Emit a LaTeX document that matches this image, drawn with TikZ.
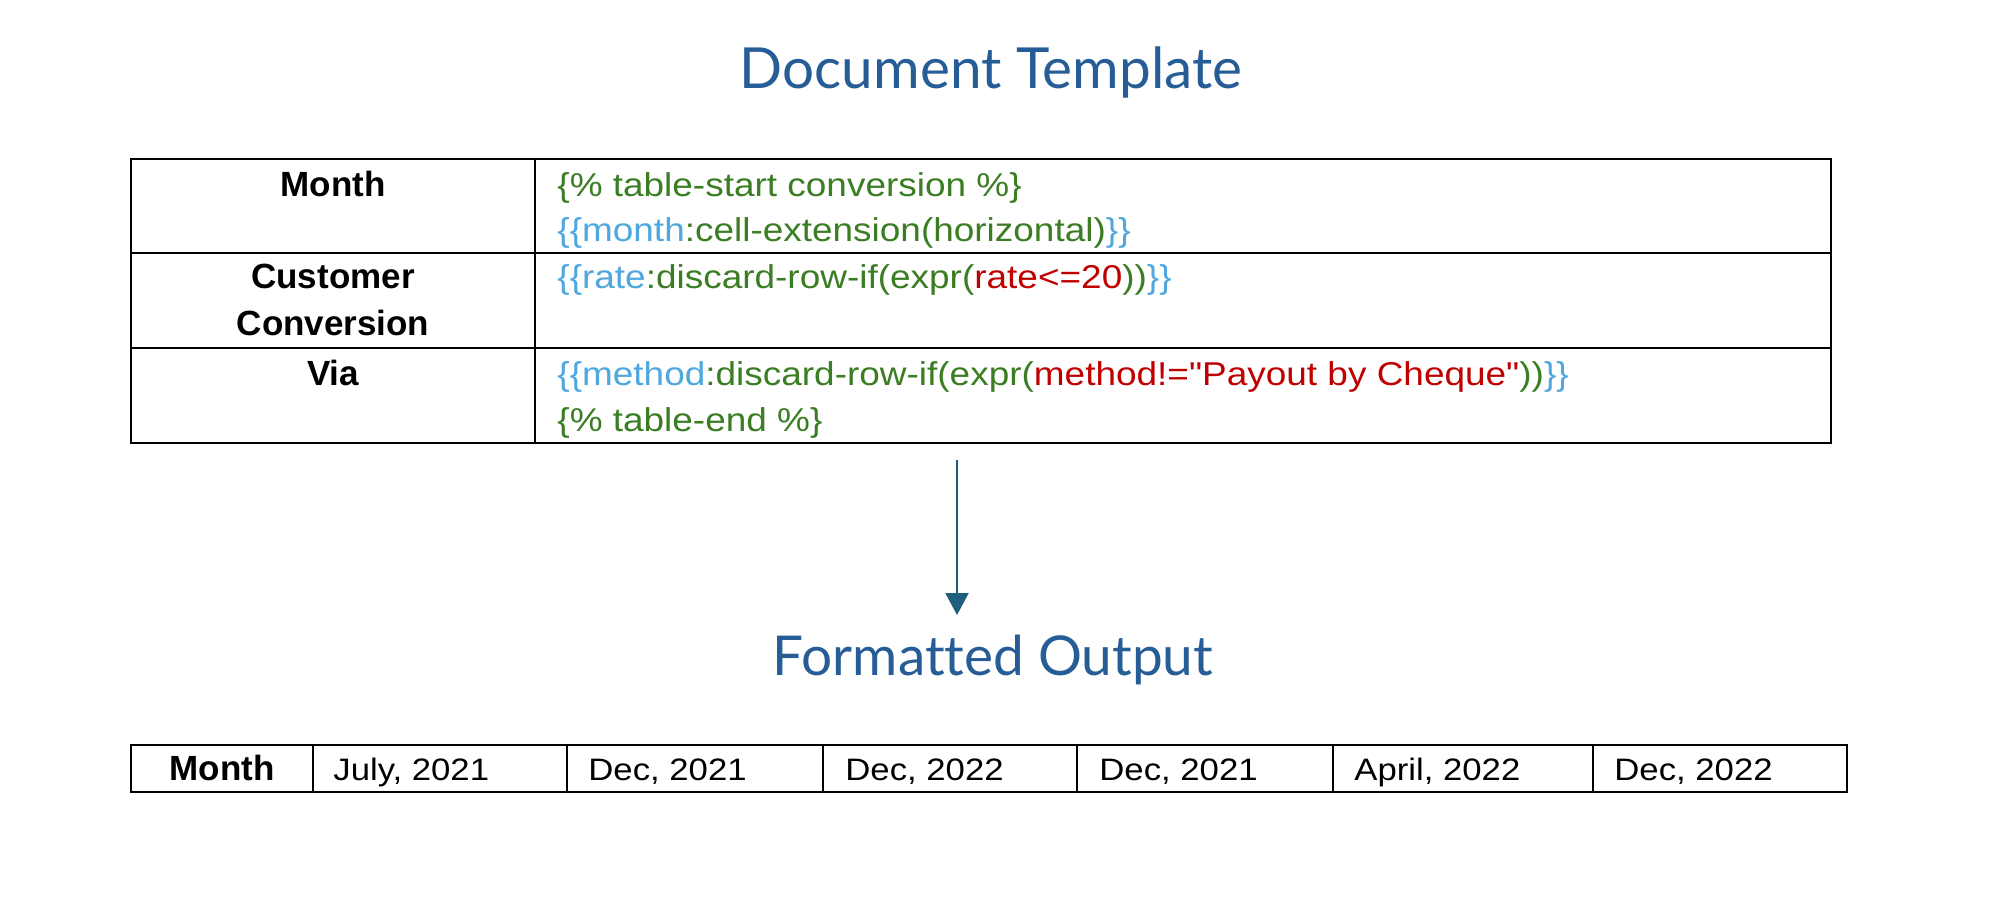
\documentclass[tikz,border=0pt]{standalone}
\usepackage{fontspec}
\usepackage{graphicx}
\usetikzlibrary{arrows.meta}
\setmainfont{Liberation Sans}
\newfontfamily\codefont[FakeStretch=1.12]{Liberation Sans}
\newfontfamily\titlefont[Ligatures={NoCommon,NoRare,NoContextual}]{Lato}
\definecolor{titleblue}{HTML}{265D96}
\definecolor{arrowblue}{HTML}{1D5F7D}
\definecolor{codegreen}{RGB}{59,125,35}
\definecolor{codeblue}{RGB}{78,167,222}
\definecolor{codered}{HTML}{C00000}
\newcommand{\cg}[1]{\textcolor{codegreen}{#1}}
\newcommand{\cb}[1]{\textcolor{codeblue}{#1}}
\newcommand{\cred}[1]{\textcolor{codered}{#1}}
\begin{document}
\begin{tikzpicture}[x=0.5pt,y=-0.5pt,
  grid/.style={line width=1pt,black},
  hdr/.style={inner sep=0pt,anchor=base,font=\fontsize{17.5pt}{23.5pt}\selectfont\bfseries,align=center},
  code/.style={inner sep=0pt,anchor=base west,font=\fontsize{16.5pt}{22.5pt}\codefont},
  cell/.style={inner sep=0pt,anchor=base west,font=\fontsize{15.5pt}{20pt}\codefont},
  ttl/.style={inner sep=0pt,anchor=base,text=titleblue}]
\useasboundingbox (0,0) rectangle (2016,912);
\fill[white] (0,0) rectangle (2016,912);

% Titles
\node[ttl] (t1) at (991,88) {\resizebox{251pt}{!}{\titlefont Document Template}};
\node[ttl] (t2) at (993,675) {\resizebox{220pt}{!}{\titlefont Format{}ted Output}};

% Top table grid
\draw[grid] (131,159) rectangle (1831,443);
\draw[grid] (131,253) -- (1831,253);
\draw[grid] (131,348) -- (1831,348);
\draw[grid] (535,159) -- (535,443);

% Header column
\node[hdr] (h1) at (333,196) {Month};
\node[hdr] (h2) at (333,288) {Customer};
\node[hdr] (h2b) at (333,335) {Conversion};
\node[hdr] (h3) at (333,385) {Via};

% Code column
\node[code] (c1) at (557,196) {\cg{\{\% table-start conversion \%\}}};
\node[code] (c2) at (557,241) {\cb{\{\{month}\cg{:cell-extension(horizontal)}\cb{\}\}}};
\node[code] (c3) at (557,288) {\cb{\{\{rate}\cg{:discard-row-if(expr(}\cred{rate<=20}\cg{))}\cb{\}\}}};
\node[code] (c4) at (557,385) {\cb{\{\{method}\cg{:discard-row-if(expr(}\cred{method!="Payout by Cheque"}\cg{))}\cb{\}\}}};
\node[code] (c5) at (557,431) {\cg{\{\% table-end \%\}}};

% Arrow
\coordinate (a1) at (957,460);
\coordinate (a2) at (957,615);
\draw[arrowblue,line width=1pt,-{Triangle[width=11.5pt,length=11pt]}] (a1) -- (a2);

% Bottom table
\draw[grid] (131,745) rectangle (1847,792);
\foreach \xx in {313,567,823,1077,1333,1593} \draw[grid] (\xx,745) -- (\xx,792);
\node[hdr] (b0) at (222,780) {Month};
\node[cell] (b1) at (333,780) {July, 2021};
\node[cell] (b2) at (588,780) {Dec, 2021};
\node[cell] (b3) at (845,780) {Dec, 2022};
\node[cell] (b4) at (1099,780) {Dec, 2021};
\node[cell] (b5) at (1354,780) {April, 2022};
\node[cell] (b6) at (1614,780) {Dec, 2022};
\end{tikzpicture}
\end{document}
